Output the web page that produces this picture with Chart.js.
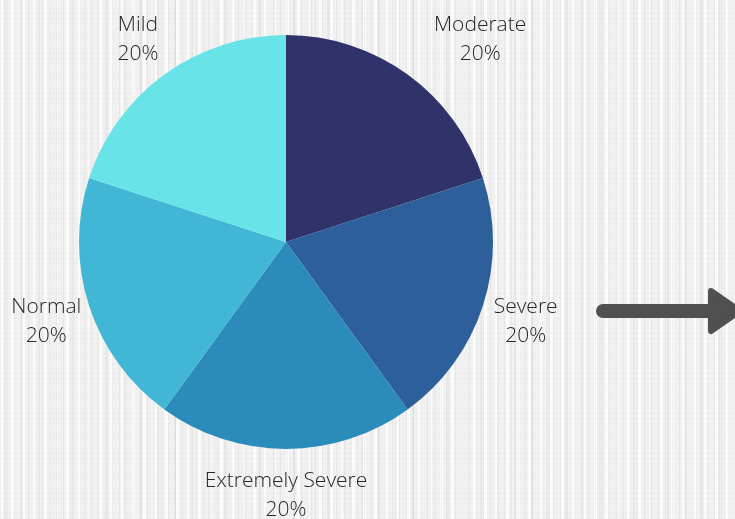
<!DOCTYPE html>
<html lang="en">

<head>
    <meta charset="UTF-8">
    <meta name="viewport" content="width=device-width, initial-scale=1.0">
    <title>Severity Pie</title>
    <style>
        html, body {
            margin: 0;
            padding: 0;
        }

        body {
            width: 735px;
            height: 519px;
            overflow: hidden;
            background:
                repeating-linear-gradient(90deg, rgba(0, 0, 0, 0.045) 0 1px, transparent 1px 7px),
                repeating-linear-gradient(90deg, transparent 0 4px, rgba(0, 0, 0, 0.04) 4px 6px, transparent 6px 17px),
                repeating-linear-gradient(90deg, rgba(255, 255, 255, 0.7) 0 3px, transparent 3px 11px),
                repeating-linear-gradient(0deg, rgba(0, 0, 0, 0.015) 0 1px, transparent 1px 5px),
                #f1f1f1;
        }

        .chart-box {
            position: relative;
            width: 735px;
            height: 519px;
        }
    </style>
</head>

<body>
    <div class="chart-box">
        <canvas id="pieChart"></canvas>
    </div>
    <script src="https://cdn.jsdelivr.net/npm/chart.js"></script>
    <script>
        // categories, clockwise from 12 o'clock
        const categories = ['Moderate', 'Severe', 'Extremely Severe', 'Normal', 'Mild'];
        const shares = [20, 20, 20, 20, 20];
        const percentLabels = ['20%', '20%', '20%', '20%', '20%'];

        const sliceColors = ['#2f336a', '#2d5f9a', '#2b8bbb', '#41b7d5', '#68e4e8'];

        // labels sit outside the pie, pushed out from each slice's middle
        const outsideLabels = {
            id: 'outsideLabels',
            afterDatasetsDraw(chart, args, opts) {
                const ctx = chart.ctx;
                const meta = chart.getDatasetMeta(0);
                ctx.save();
                ctx.font = '300 21px "Open Sans", "DejaVu Sans", sans-serif';
                ctx.fillStyle = '#262626';
                ctx.textAlign = 'center';
                ctx.textBaseline = 'middle';
                meta.data.forEach((arc, i) => {
                    const mid = (arc.startAngle + arc.endAngle) / 2;
                    const dist = arc.outerRadius + opts.gap;
                    const nudge = (opts.nudgeX && opts.nudgeX[i]) || 0;
                    const x = arc.x + Math.cos(mid) * dist + nudge;
                    const y = arc.y + Math.sin(mid) * dist;
                    ctx.fillText(categories[i], x, y - 13);
                    ctx.fillText(percentLabels[i], x, y + 16);
                });
                ctx.restore();
            }
        };

        // the grey arrow pointing off to the right
        const sideArrow = {
            id: 'sideArrow',
            afterDraw(chart) {
                const ctx = chart.ctx;
                const y = 311;
                ctx.save();
                ctx.strokeStyle = '#505050';
                ctx.fillStyle = '#505050';
                ctx.lineWidth = 14;
                ctx.lineCap = 'round';
                ctx.beginPath();
                ctx.moveTo(603, y);
                ctx.lineTo(712, y);
                ctx.stroke();

                ctx.lineJoin = 'round';
                ctx.lineWidth = 6;
                ctx.beginPath();
                ctx.moveTo(711, y - 20);
                ctx.lineTo(740, y);
                ctx.lineTo(711, y + 20);
                ctx.closePath();
                ctx.fill();
                ctx.stroke();
                ctx.restore();
            }
        };

        new Chart(document.getElementById('pieChart'), {
            type: 'pie',
            data: {
                labels: categories,
                datasets: [{
                    data: shares,
                    backgroundColor: sliceColors,
                    borderWidth: 0
                }]
            },
            options: {
                responsive: true,
                maintainAspectRatio: false,
                animation: false,
                layout: {
                    padding: { top: 35, bottom: 70, left: 79, right: 242 }
                },
                plugins: {
                    legend: { display: false },
                    tooltip: { enabled: false },
                    outsideLabels: {
                        gap: 45,
                        nudgeX: [46, 0, 0, 0, 0]
                    }
                }
            },
            plugins: [outsideLabels, sideArrow]
        });
    </script>
</body>

</html>
